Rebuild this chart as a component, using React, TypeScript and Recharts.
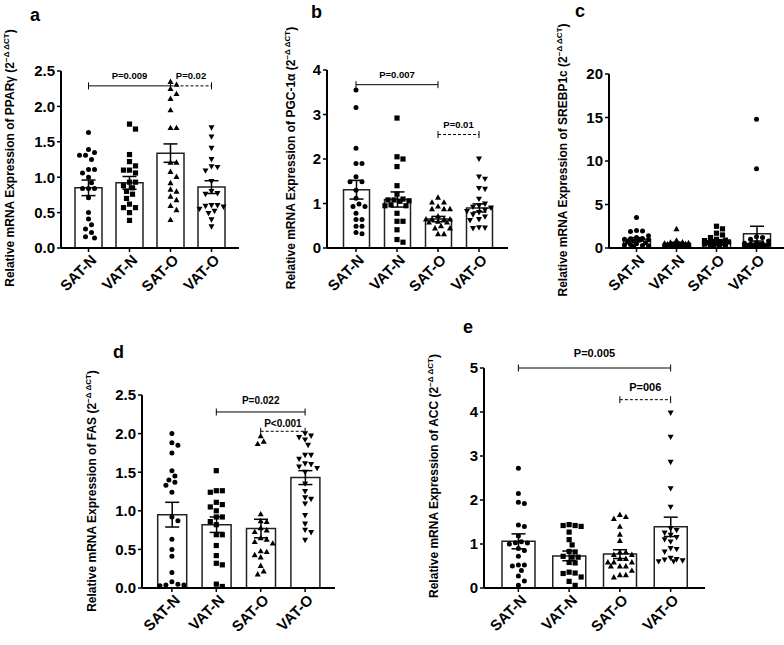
import React from "react";
import {
    ComposedChart,
    Bar,
    Scatter,
    XAxis,
    YAxis,
    ErrorBar,
    ReferenceLine,
} from "recharts";

const FONT = 'Arial, "Liberation Sans", Helvetica, sans-serif';

const groups = ["SAT-N", "VAT-N", "SAT-O", "VAT-O"];

// a: PPARγ
const ppargMean = [0.85, 0.92, 1.34, 0.86];
const ppargSem = [0.11, 0.09, 0.13, 0.09];
const ppargSatN = [1.63, 1.39, 1.35, 1.31, 1.31, 1.25, 1.11, 1.11, 1.06, 1.0, 0.92, 0.84, 0.84, 0.84, 0.71, 0.5, 0.41, 0.33, 0.27, 0.22, 0.16, 0.14];
const ppargVatN = [1.75, 1.68, 1.32, 1.22, 1.16, 1.1, 1.1, 1.06, 0.93, 0.93, 0.88, 0.85, 0.8, 0.76, 0.7, 0.62, 0.57, 0.57, 0.5, 0.39];
const ppargSatO = [2.35, 2.31, 2.25, 2.18, 2.11, 1.95, 1.7, 1.7, 1.21, 1.21, 1.08, 1.01, 0.92, 0.83, 0.8, 0.73, 0.68, 0.6, 0.54, 0.4];
const ppargVatO = [1.7, 1.57, 1.41, 1.25, 1.15, 1.14, 1.09, 0.94, 0.8, 0.77, 0.76, 0.6, 0.6, 0.59, 0.58, 0.55, 0.52, 0.49, 0.4, 0.3];

// b: PGC-1α
const pgcMean = [1.31, 1.09, 0.65, 0.9];
const pgcSem = [0.21, 0.17, 0.06, 0.09];
const pgcSatN = [3.55, 3.16, 2.24, 1.9, 1.9, 1.6, 1.49, 1.49, 1.3, 1.12, 0.99, 0.93, 0.93, 0.78, 0.64, 0.64, 0.49, 0.49, 0.35, 0.32];
const pgcVatN = [2.92, 2.05, 2.0, 1.83, 1.4, 1.21, 1.1, 1.08, 1.08, 1.06, 1.05, 0.97, 0.95, 0.95, 0.78, 0.6, 0.6, 0.41, 0.19, 0.13];
const pgcSatO = [1.14, 1.03, 1.03, 0.94, 0.88, 0.88, 0.88, 0.72, 0.6, 0.65, 0.65, 0.65, 0.65, 0.58, 0.58, 0.5, 0.45, 0.45, 0.32, 0.32];
const pgcVatO = [2.0, 1.6, 1.55, 1.34, 1.32, 1.1, 0.99, 0.95, 0.92, 0.9, 0.85, 0.82, 0.8, 0.75, 0.7, 0.64, 0.62, 0.46, 0.45, 0.44];

// c: SREBP1c
const srebpMean = [1.0, 0.55, 0.8, 1.65];
const srebpSem = [0.2, 0.1, 0.15, 0.85];
const srebpSatN = [3.5, 2.0, 1.95, 1.9, 1.4, 1.2, 1.1, 1.05, 1.0, 0.95, 0.9, 0.8, 0.7, 0.6, 0.5, 0.4, 0.35, 0.3, 0.25, 0.2];
const srebpVatN = [2.2, 0.9, 0.7, 0.65, 0.6, 0.55, 0.5, 0.5, 0.45, 0.45, 0.4, 0.4, 0.35, 0.35, 0.3, 0.3, 0.25, 0.2, 0.2, 0.15];
const srebpSatO = [2.5, 2.2, 1.7, 1.5, 1.2, 1.0, 0.9, 0.85, 0.8, 0.75, 0.7, 0.65, 0.6, 0.55, 0.5, 0.45, 0.4, 0.35, 0.3, 0.25];
const srebpVatO = [14.8, 9.1, 1.3, 1.2, 1.0, 0.8, 0.6, 0.55, 0.5, 0.45, 0.4, 0.4, 0.35, 0.3, 0.3, 0.25, 0.25, 0.2, 0.2, 0.15];

// d: FAS
const fasMean = [0.95, 0.82, 0.77, 1.43];
const fasSem = [0.16, 0.1, 0.12, 0.09];
const fasSatN = [2.0, 1.88, 1.85, 1.75, 1.52, 1.45, 1.4, 1.37, 1.33, 1.24, 0.92, 0.87, 0.63, 0.5, 0.41, 0.2, 0.08, 0.05, 0.04, 0.04, 0.03];
const fasVatN = [1.52, 1.26, 1.26, 1.24, 1.11, 1.08, 1.05, 1.0, 0.92, 0.92, 0.86, 0.82, 0.69, 0.69, 0.55, 0.42, 0.32, 0.3, 0.05, 0.02];
const fasSatO = [1.97, 1.9, 1.87, 0.96, 0.87, 0.86, 0.78, 0.75, 0.73, 0.65, 0.63, 0.6, 0.58, 0.48, 0.47, 0.43, 0.4, 0.29, 0.22, 0.18];
const fasVatO = [2.0, 1.97, 1.95, 1.92, 1.85, 1.72, 1.72, 1.67, 1.61, 1.6, 1.57, 1.55, 1.5, 1.35, 1.25, 1.17, 1.15, 1.09, 0.94, 0.83, 0.75, 0.72, 0.62];

// e: ACC
const accMean = [1.06, 0.73, 0.77, 1.39];
const accSem = [0.17, 0.11, 0.1, 0.22];
const accSatN = [2.72, 2.15, 1.95, 1.92, 1.43, 1.4, 1.18, 1.05, 1.03, 1.02, 1.0, 0.9, 0.85, 0.72, 0.52, 0.52, 0.5, 0.4, 0.27, 0.16, 0.06];
const accVatN = [1.44, 1.42, 1.42, 1.4, 1.27, 1.1, 0.98, 0.83, 0.82, 0.72, 0.7, 0.7, 0.58, 0.57, 0.36, 0.34, 0.33, 0.25, 0.15, 0.06];
const accSatO = [1.67, 1.62, 1.58, 1.4, 1.22, 1.08, 0.82, 0.82, 0.76, 0.76, 0.67, 0.67, 0.59, 0.59, 0.59, 0.5, 0.5, 0.5, 0.4, 0.3, 0.3, 0.25];
const accVatO = [3.98, 3.43, 2.86, 2.26, 1.84, 1.35, 1.31, 1.25, 1.2, 1.15, 1.1, 1.05, 0.9, 0.88, 0.82, 0.68, 0.65, 0.64, 0.62, 0.6, 0.6];

// significance brackets
const ppargSig = [
    { from: "SAT-N", to: "SAT-O", y: 2.29, text: "P=0.009", dashed: false },
    { from: "SAT-O", to: "VAT-O", y: 2.29, text: "P=0.02", dashed: true },
];
const pgcSig = [
    { from: "SAT-N", to: "SAT-O", y: 3.67, text: "P=0.007", dashed: false },
    { from: "SAT-O", to: "VAT-O", y: 2.55, text: "P=0.01", dashed: true },
];
const fasSig = [
    { from: "VAT-N", to: "VAT-O", y: 2.28, text: "P=0.022", dashed: false },
    { from: "SAT-O", to: "VAT-O", y: 2.03, text: "P<0.001", dashed: true },
];
const accSig = [
    { from: "SAT-N", to: "VAT-O", y: 5.0, text: "P=0.005", dashed: false },
    { from: "SAT-O", to: "VAT-O", y: 4.28, text: "P=006", dashed: true },
];

type Mark = "circle" | "square" | "up" | "down";

// spread points sideways like a dot plot, staying inside the bar
function swarm(values: number[], pxPerUnit: number, d: number, maxOff: number) {
    const order = values.map((_, i) => i).sort((a, b) => values[b] - values[a]);
    const placed: { x: number; y: number }[] = [];
    const dx = new Array(values.length).fill(0);
    const step = d / 2;
    for (const i of order) {
        const y = values[i] * pxPerUnit;
        let best = 0;
        let bestScore = -1;
        for (let k = 0; Math.ceil(k / 2) * step <= maxOff; k++) {
            const off = k === 0 ? 0 : (k % 2 === 1 ? 1 : -1) * Math.ceil(k / 2) * step;
            const minD = placed.reduce((m, p) => Math.min(m, Math.hypot(p.x - off, p.y - y)), Infinity);
            if (minD >= d) {
                best = off;
                break;
            }
            if (minD > bestScore) {
                bestScore = minD;
                best = off;
            }
        }
        dx[i] = best;
        placed.push({ x: best, y });
    }
    return dx;
}

const markShape = (kind: Mark) => (p: any) => {
    const cx = p.cx + (p.payload?.dx ?? 0);
    const cy = p.cy;
    if (kind === "circle") return <circle cx={cx} cy={cy} r={2.5} fill="#000" />;
    if (kind === "square") return <rect x={cx - 2.6} y={cy - 2.6} width={5.2} height={5.2} fill="#000" />;
    if (kind === "up")
        return <polygon points={`${cx},${cy - 3} ${cx - 3},${cy + 2.4} ${cx + 3},${cy + 2.4}`} fill="#000" />;
    return <polygon points={`${cx},${cy + 3} ${cx - 3},${cy - 2.4} ${cx + 3},${cy - 2.4}`} fill="#000" />;
};

const XTick = (p: any) => (
    <g transform={`translate(${p.x + 9},${p.y + 7}) rotate(-45)`}>
        <text x={0} y={0} textAnchor="end" fontSize={15} fontWeight={700} fontFamily={FONT} fill="#000">
            {p.payload.value}
        </text>
    </g>
);

const bracketShape = (b: any, fs: number, gap: number) => (p: any) => {
    const { x1, x2, y1 } = p;
    const cap = 3.5;
    return (
        <g>
            <line x1={x1} y1={y1} x2={x2} y2={y1} stroke="#000" strokeWidth={1} strokeDasharray={b.dashed ? "3 2" : undefined} />
            <line x1={x1} y1={y1 - cap} x2={x1} y2={y1 + cap} stroke="#000" strokeWidth={1} />
            <line x1={x2} y1={y1 - cap} x2={x2} y2={y1 + cap} stroke="#000" strokeWidth={1} />
            <text x={(x1 + x2) / 2} y={y1 - gap} textAnchor="middle" fontSize={fs} fontWeight={700} fontFamily={FONT} fill="#000">
                {b.text}
            </text>
        </g>
    );
};

interface PanelCfg {
    mean: number[];
    sem: number[];
    points: number[][];
    marks: Mark[];
    yMax: number;
    yTicks: number[];
    decimals: number;
    plot: { x: number; y: number; w: number; h: number };
    pad: number;
    barSize: number;
    sig: any[];
    sigFont: number;
    sigGap: number[];
    right: number;
}

function Panel({ cfg }: { cfg: PanelCfg }) {
    const { plot } = cfg;
    const left = plot.x - 70;
    const top = plot.y - 40;
    const W = plot.w + 70 + cfg.right;
    const H = plot.h + 40 + 62;
    const barData = groups.map((g, i) => ({ name: g, mean: cfg.mean[i], sem: cfg.sem[i] }));
    const ppu = plot.h / cfg.yMax;
    const series = cfg.points.map((vals, gi) => {
        const dx = swarm(vals, ppu, 6, cfg.barSize / 2 + 1);
        return vals.map((v, k) => ({ name: groups[gi], value: v, dx: dx[k] }));
    });
    return (
        <div style={{ position: "absolute", left, top }}>
            <ComposedChart width={W} height={H} data={barData} margin={{ top: 40, right: cfg.right, bottom: 0, left: 10 }}>
                <XAxis
                    dataKey="name"
                    type="category"
                    allowDuplicatedCategory={false}
                    padding={{ left: cfg.pad, right: cfg.pad }}
                    height={62}
                    interval={0}
                    tickSize={4}
                    tickMargin={2}
                    axisLine={{ stroke: "#000", strokeWidth: 2 }}
                    tickLine={{ stroke: "#000", strokeWidth: 1.5 }}
                    tick={<XTick />}
                />
                <YAxis
                    type="number"
                    domain={[0, cfg.yMax]}
                    ticks={cfg.yTicks}
                    allowDataOverflow
                    width={60}
                    tickSize={4}
                    tickMargin={2}
                    axisLine={{ stroke: "#000", strokeWidth: 2 }}
                    tickLine={{ stroke: "#000", strokeWidth: 1.5 }}
                    tick={{ fill: "#000", fontSize: 15, fontWeight: 700, fontFamily: FONT }}
                    tickFormatter={(v: number) => v.toFixed(cfg.decimals)}
                />
                <Bar dataKey="mean" fill="#fff" stroke="#222" strokeWidth={1.5} barSize={cfg.barSize} isAnimationActive={false}>
                    <ErrorBar dataKey="sem" width={7} stroke="#000" strokeWidth={1.5} direction="y" />
                </Bar>
                {series.map((s, gi) => (
                    <Scatter key={gi} data={s} dataKey="value" shape={markShape(cfg.marks[gi])} isAnimationActive={false} />
                ))}
                {cfg.sig.map((b, i) => (
                    <ReferenceLine
                        key={i}
                        segment={[{ x: b.from, y: b.y }, { x: b.to, y: b.y }]}
                        ifOverflow="visible"
                        shape={bracketShape(b, cfg.sigFont, cfg.sigGap[i])}
                    />
                ))}
            </ComposedChart>
        </div>
    );
}

const panels: PanelCfg[] = [
    {
        mean: ppargMean, sem: ppargSem, points: [ppargSatN, ppargVatN, ppargSatO, ppargVatO],
        marks: ["circle", "square", "up", "down"], yMax: 2.5, yTicks: [0, 0.5, 1, 1.5, 2, 2.5], decimals: 1,
        plot: { x: 61, y: 71, w: 178, h: 177 }, pad: 7, barSize: 27, sig: ppargSig, sigFont: 9.5, sigGap: [7, 7], right: 10,
    },
    {
        mean: pgcMean, sem: pgcSem, points: [pgcSatN, pgcVatN, pgcSatO, pgcVatO],
        marks: ["circle", "square", "up", "down"], yMax: 4, yTicks: [0, 1, 2, 3, 4], decimals: 0,
        plot: { x: 327, y: 70, w: 181, h: 178 }, pad: 8.5, barSize: 26, sig: pgcSig, sigFont: 9.5, sigGap: [7, 7], right: 10,
    },
    {
        mean: srebpMean, sem: srebpSem, points: [srebpSatN, srebpVatN, srebpSatO, srebpVatO],
        marks: ["circle", "up", "square", "circle"], yMax: 20, yTicks: [0, 5, 10, 15, 20], decimals: 0,
        plot: { x: 609, y: 74, w: 175, h: 174 }, pad: 7.5, barSize: 27, sig: [], sigFont: 9.5, sigGap: [], right: 0,
    },
    {
        mean: fasMean, sem: fasSem, points: [fasSatN, fasVatN, fasSatO, fasVatO],
        marks: ["circle", "square", "up", "down"], yMax: 2.5, yTicks: [0, 0.5, 1, 1.5, 2, 2.5], decimals: 1,
        plot: { x: 142, y: 395, w: 193, h: 193 }, pad: 7.7, barSize: 29, sig: fasSig, sigFont: 10, sigGap: [8, 4], right: 10,
    },
    {
        mean: accMean, sem: accSem, points: [accSatN, accVatN, accSatO, accVatO],
        marks: ["circle", "square", "up", "down"], yMax: 5, yTicks: [0, 1, 2, 3, 4, 5], decimals: 0,
        plot: { x: 484, y: 368, w: 221, h: 220 }, pad: 9, barSize: 33, sig: accSig, sigFont: 11, sigGap: [11, 9], right: 10,
    },
];

const genes = ["PPARγ", "PGC-1α", "SREBP1c", "FAS", "ACC"];
const letters = ["a", "b", "c", "d", "e"];
const letterPos = [[30, 21], [311, 18], [575, 17], [113, 358], [463, 333]];
const labelPos = [[9, 158], [290, 158], [562, 160], [91, 491], [433, 476]];

export default function App() {
    return (
        <div style={{ position: "absolute", left: 0, top: 0, width: 784, height: 645, background: "#fff", fontFamily: FONT }}>
            {panels.map((cfg, i) => (
                <Panel key={i} cfg={cfg} />
            ))}
            <svg width={784} height={645} style={{ position: "absolute", left: 0, top: 0, pointerEvents: "none" }}>
                {letters.map((l, i) => (
                    <text key={l} x={letterPos[i][0]} y={letterPos[i][1]} fontSize={18} fontWeight={700} fontFamily={FONT} fill="#000">
                        {l}
                    </text>
                ))}
                {genes.map((g, i) => (
                    <text
                        key={g}
                        transform={`translate(${labelPos[i][0] + 4.5},${labelPos[i][1]}) rotate(-90)`}
                        textAnchor="middle"
                        fontSize={12}
                        fontWeight={700}
                        fontFamily={FONT}
                        fill="#000"
                    >
                        {`Relative mRNA Expression of ${g} (2`}
                        <tspan dy={-4.5} fontSize={8}>−Δ ΔCT</tspan>
                        <tspan dy={4.5}>)</tspan>
                    </text>
                ))}
            </svg>
        </div>
    );
}
